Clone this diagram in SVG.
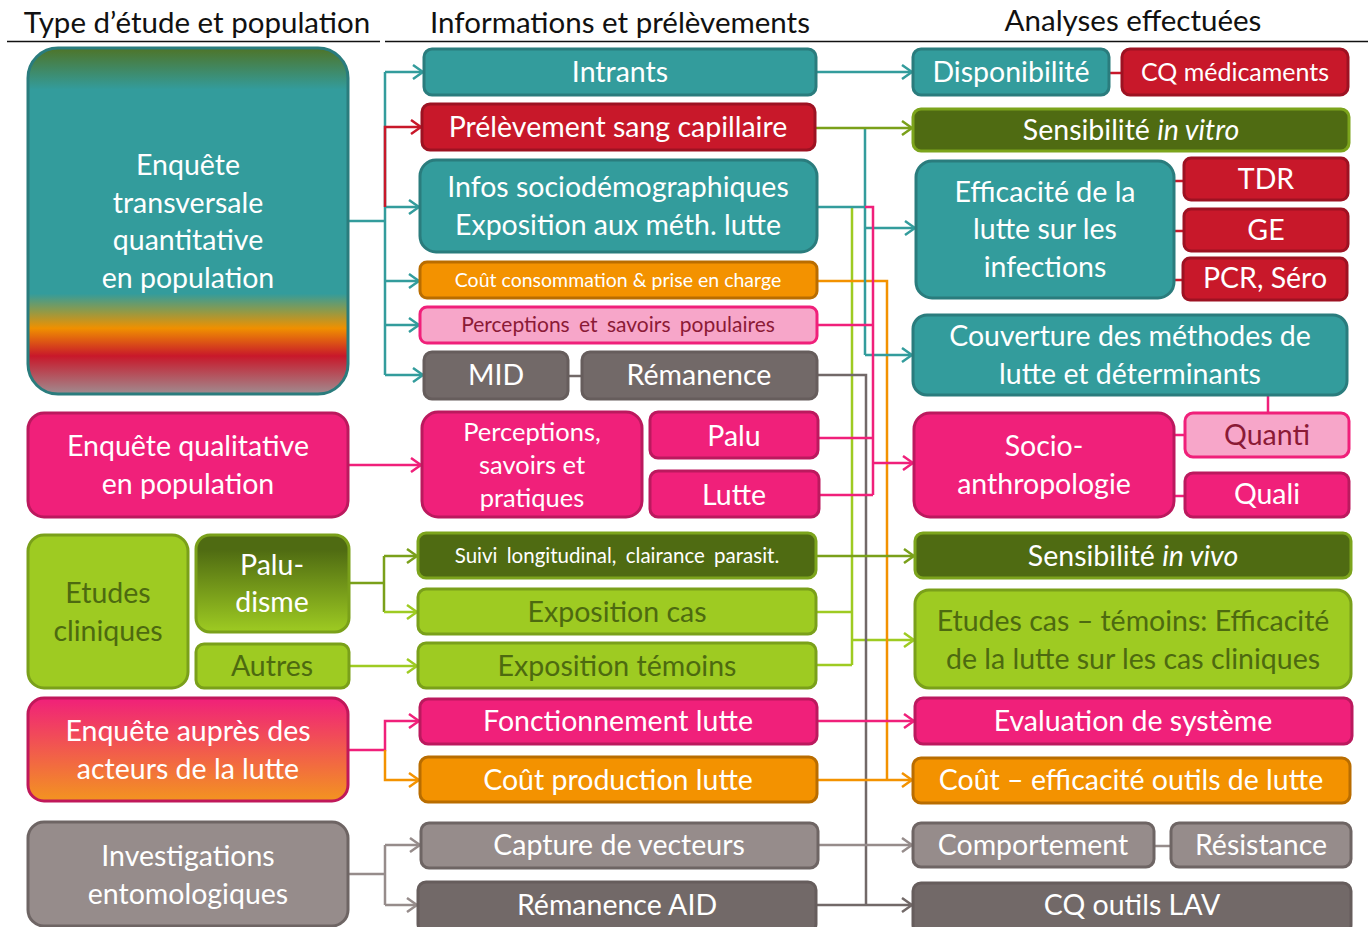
<svg xmlns="http://www.w3.org/2000/svg" width="1372" height="927" viewBox="0 0 1372 927">
<style>
text{font-family:Lato,"Noto Sans","Liberation Sans",sans-serif;font-size:28.5px;text-anchor:middle;fill:#fff}
.hd{fill:#111;font-size:29.5px}
.sc{font-size:19.5px}
.sp{font-size:21px;word-spacing:4px}
.ss{font-size:20.5px;word-spacing:4px}
.s23{font-size:25px}
.s24{font-size:25.5px}
.dg{fill:#4d6a10}
.dr{fill:#8b1a36}
rect{stroke-width:3}
.teal{fill:#339c9c;stroke:#2a7c7d}
.red{fill:#c8182a;stroke:#9d1222}
.pink{fill:#f0207a;stroke:#bb195e}
.lpink{fill:#f7a6c9;stroke:#f0207a}
.orange{fill:#f39200;stroke:#b96d00}
.dgreen{fill:#4f6b12;stroke:#7ca41c}
.lgreen{fill:#9ecb22;stroke:#7aa01a}
.glight{fill:#968c8b;stroke:#6e6564}
.gdark{fill:#726968;stroke:#665d5c}
.c{fill:none;stroke-width:2.5}
.ct{stroke:#339c9c}.cr{stroke:#c8182a}.co{stroke:#7aa01a}.cl{stroke:#9ecb22}.cp{stroke:#f0207a}.cor{stroke:#f39200}.cg{stroke:#968c8b}.cgd{stroke:#726968}
</style>
<defs>
<linearGradient id="gTrans" x1="0" y1="0" x2="0" y2="1">
<stop offset="0" stop-color="#4e7428"/>
<stop offset="0.12" stop-color="#339c9c"/>
<stop offset="0.71" stop-color="#339c9c"/>
<stop offset="0.76" stop-color="#8e9a4a"/>
<stop offset="0.81" stop-color="#f09000"/>
<stop offset="0.89" stop-color="#c8182a"/>
<stop offset="1" stop-color="#a08c90"/>
</linearGradient>
<linearGradient id="gPalu" x1="0" y1="0" x2="0" y2="1">
<stop offset="0.15" stop-color="#4f6b12"/>
<stop offset="1" stop-color="#9ecb22"/>
</linearGradient>
<linearGradient id="gAct" x1="0" y1="0" x2="0" y2="1">
<stop offset="0" stop-color="#f0207a"/>
<stop offset="1" stop-color="#f39420"/>
</linearGradient>
<marker id="aT" viewBox="0 0 12 16" refX="11" refY="8" markerWidth="12" markerHeight="16" markerUnits="userSpaceOnUse" orient="auto"><path d="M1,1 L11,8 L1,15" fill="none" stroke="#339c9c" stroke-width="2.5"/></marker>
<marker id="aR" viewBox="0 0 12 16" refX="11" refY="8" markerWidth="12" markerHeight="16" markerUnits="userSpaceOnUse" orient="auto"><path d="M1,1 L11,8 L1,15" fill="none" stroke="#c8182a" stroke-width="2.5"/></marker>
<marker id="aO" viewBox="0 0 12 16" refX="11" refY="8" markerWidth="12" markerHeight="16" markerUnits="userSpaceOnUse" orient="auto"><path d="M1,1 L11,8 L1,15" fill="none" stroke="#7aa01a" stroke-width="2.5"/></marker>
<marker id="aL" viewBox="0 0 12 16" refX="11" refY="8" markerWidth="12" markerHeight="16" markerUnits="userSpaceOnUse" orient="auto"><path d="M1,1 L11,8 L1,15" fill="none" stroke="#9ecb22" stroke-width="2.5"/></marker>
<marker id="aP" viewBox="0 0 12 16" refX="11" refY="8" markerWidth="12" markerHeight="16" markerUnits="userSpaceOnUse" orient="auto"><path d="M1,1 L11,8 L1,15" fill="none" stroke="#f0207a" stroke-width="2.5"/></marker>
<marker id="aOr" viewBox="0 0 12 16" refX="11" refY="8" markerWidth="12" markerHeight="16" markerUnits="userSpaceOnUse" orient="auto"><path d="M1,1 L11,8 L1,15" fill="none" stroke="#f39200" stroke-width="2.5"/></marker>
<marker id="aG" viewBox="0 0 12 16" refX="11" refY="8" markerWidth="12" markerHeight="16" markerUnits="userSpaceOnUse" orient="auto"><path d="M1,1 L11,8 L1,15" fill="none" stroke="#968c8b" stroke-width="2.5"/></marker>
<marker id="aGd" viewBox="0 0 12 16" refX="11" refY="8" markerWidth="12" markerHeight="16" markerUnits="userSpaceOnUse" orient="auto"><path d="M1,1 L11,8 L1,15" fill="none" stroke="#726968" stroke-width="2.5"/></marker>
</defs>
<rect width="1372" height="927" fill="#fff" stroke="none"/>
<g id="headers">
<text class="hd" x="197" y="33">Type d’étude et population</text>
<text class="hd" x="620" y="33">Informations et prélèvements</text>
<text class="hd" x="1133" y="31">Analyses effectuées</text>
<line x1="7" y1="41.5" x2="380" y2="41.5" stroke="#111" stroke-width="1.5"/>
<line x1="385" y1="41.5" x2="1368" y2="41.5" stroke="#111" stroke-width="1.5"/>
</g>
<g id="connectors">
<path class="c ct" d="M348,221 H385"/>
<path class="c ct" d="M385,72 V375"/>
<path class="c ct" d="M385,72 H423" marker-end="url(#aT)"/>
<path class="c ct" d="M385,207 H419" marker-end="url(#aT)"/>
<path class="c ct" d="M385,281 H419" marker-end="url(#aT)"/>
<path class="c ct" d="M385,325 H419" marker-end="url(#aT)"/>
<path class="c ct" d="M385,375 H423" marker-end="url(#aT)"/>
<path class="c cr" d="M385,207 V127 H421" marker-end="url(#aR)"/>
<path class="c cp" d="M348,465 H421" marker-end="url(#aP)"/>
<path class="c co" d="M349,583 H384 M384,556 V612"/>
<path class="c co" d="M384,556 H417" marker-end="url(#aO)"/>
<path class="c cl" d="M384,612 H417" marker-end="url(#aL)"/>
<path class="c cl" d="M349,666 H417" marker-end="url(#aL)"/>
<path class="c cp" d="M348,750 H385 V721 H419" marker-end="url(#aP)"/>
<path class="c cor" d="M385,750 V780 H419" marker-end="url(#aOr)"/>
<path class="c cg" d="M348,874 H385 M385,845 V905"/>
<path class="c cg" d="M385,845 H420" marker-end="url(#aG)"/>
<path class="c cg" d="M385,905 H417" marker-end="url(#aG)"/>
<path class="c cgd" d="M568,376 H582"/>
<path class="c cr" d="M1109,73 H1122"/>
<path class="c cr" d="M1174,181 H1184 M1174,231 H1184 M1174,280 H1183"/>
<path class="c cp" d="M1268,395 V413 M1174,435 H1185 M1174,496 H1185"/>
<path class="c cg" d="M1154,846 H1171"/>
<path class="c cl" d="M852,207 V665 M816,612 H852 M816,665 H852"/>
<path class="c cl" d="M852,640 H914" marker-end="url(#aL)"/>
<path class="c cgd" d="M817,375 H866 V905 M816,905 H866"/>
<path class="c cgd" d="M866,905 H912" marker-end="url(#aGd)"/>
<path class="c cor" d="M817,281 H887 V780 M817,780 H887"/>
<path class="c cor" d="M887,780 H912" marker-end="url(#aOr)"/>
<path class="c ct" d="M816,72 H912" marker-end="url(#aT)"/>
<path class="c ct" d="M817,207 H865 M865,128 V355"/>
<path class="c ct" d="M865,228 H915" marker-end="url(#aT)"/>
<path class="c ct" d="M865,355 H912" marker-end="url(#aT)"/>
<path class="c co" d="M815,128 H912" marker-end="url(#aO)"/>
<path class="c cp" d="M865,207 H873 V495 M817,325 H873 M818,438 H873 M819,495 H873"/>
<path class="c cp" d="M873,463 H913" marker-end="url(#aP)"/>
<path class="c co" d="M816,556 H914" marker-end="url(#aO)"/>
<path class="c cp" d="M817,721 H914" marker-end="url(#aP)"/>
<path class="c cg" d="M818,845 H912" marker-end="url(#aG)"/>
</g>
<g id="n-transversale"><rect x="28" y="48" width="320" height="346" rx="30" fill="url(#gTrans)" stroke="#2a7c7d"/>
<text x="188" y="175">Enquête</text><text x="188" y="213">transversale</text><text x="188" y="250">quantitative</text><text x="188" y="288">en population</text></g>
<g id="n-qualitative"><rect class="pink" x="28" y="413" width="320" height="104" rx="16"/>
<text x="188" y="456">Enquête qualitative</text><text x="188" y="494">en population</text></g>
<g id="n-cliniques"><rect class="lgreen" x="28" y="535" width="160" height="153" rx="16"/>
<text class="dg" x="108" y="603">Etudes</text><text class="dg" x="108" y="641">cliniques</text></g>
<g id="n-paludisme"><rect x="196" y="535" width="153" height="97" rx="14" fill="url(#gPalu)" stroke="#7aa01a"/>
<text x="272" y="575">Palu-</text><text x="272" y="612">disme</text></g>
<g id="n-autres"><rect class="lgreen" x="196" y="644" width="153" height="44" rx="8"/>
<text class="dg" x="272" y="676">Autres</text></g>
<g id="n-acteurs"><rect x="28" y="698" width="320" height="103" rx="16" fill="url(#gAct)" stroke="#c0185a"/>
<text x="188" y="741">Enquête auprès des</text><text x="188" y="779">acteurs de la lutte</text></g>
<g id="n-entomo"><rect class="glight" x="28" y="822" width="320" height="104" rx="16"/>
<text x="188" y="866">Investigations</text><text x="188" y="904">entomologiques</text></g>

<g id="n-intrants"><rect class="teal" x="424" y="49" width="392" height="46" rx="8"/><text x="620" y="82">Intrants</text></g>
<g id="n-prelevement"><rect class="red" x="422" y="104" width="393" height="46" rx="8"/><text x="618" y="137">Prélèvement sang capillaire</text></g>
<g id="n-infos"><rect class="teal" x="420" y="160" width="397" height="92" rx="16"/><text x="618" y="197">Infos sociodémographiques</text><text x="618" y="235">Exposition aux méth. lutte</text></g>
<g id="n-coutconso"><rect class="orange" x="420" y="262" width="397" height="36" rx="7"/><text class="sc" x="618" y="287">Coût consommation &amp; prise en charge</text></g>
<g id="n-percpop"><rect class="lpink" x="420" y="307" width="397" height="36" rx="7"/><text class="sp dr" x="618" y="332">Perceptions et savoirs populaires</text></g>
<g id="n-mid"><rect class="gdark" x="424" y="352" width="144" height="47" rx="8"/><text x="496" y="385">MID</text></g>
<g id="n-remanence"><rect class="gdark" x="582" y="352" width="235" height="47" rx="8"/><text x="699" y="385">Rémanence</text></g>
<g id="n-percsav"><rect class="pink" x="422" y="412" width="220" height="105" rx="16"/><text class="s24" x="532" y="441">Perceptions,</text><text class="s24" x="532" y="474">savoirs et</text><text class="s24" x="532" y="507">pratiques</text></g>
<g id="n-palu"><rect class="pink" x="650" y="412" width="168" height="46" rx="8"/><text x="734" y="446">Palu</text></g>
<g id="n-lutte"><rect class="pink" x="650" y="471" width="169" height="46" rx="8"/><text x="734" y="505">Lutte</text></g>
<g id="n-suivi"><rect class="dgreen" x="418" y="533" width="398" height="45" rx="8"/><text class="ss" x="617" y="563">Suivi longitudinal, clairance parasit.</text></g>
<g id="n-expcas"><rect class="lgreen" x="418" y="589" width="398" height="45" rx="8"/><text class="dg" x="617" y="622">Exposition cas</text></g>
<g id="n-exptem"><rect class="lgreen" x="418" y="643" width="398" height="45" rx="8"/><text class="dg" x="617" y="676">Exposition témoins</text></g>
<g id="n-fonct"><rect class="pink" x="420" y="699" width="397" height="45" rx="8"/><text x="618" y="731">Fonctionnement lutte</text></g>
<g id="n-coutprod"><rect class="orange" x="420" y="757" width="397" height="45" rx="8"/><text x="618" y="790">Coût production lutte</text></g>
<g id="n-capture"><rect class="glight" x="421" y="823" width="397" height="45" rx="8"/><text x="619" y="855">Capture de vecteurs</text></g>
<g id="n-remaid"><rect class="gdark" x="418" y="882" width="398" height="50" rx="8"/><text x="617" y="915">Rémanence AID</text></g>

<g id="n-dispo"><rect class="teal" x="913" y="49" width="196" height="46" rx="8"/><text x="1011" y="82">Disponibilité</text></g>
<g id="n-cqmed"><rect class="red" x="1122" y="49" width="226" height="46" rx="8"/><text class="s23" x="1235" y="81">CQ médicaments</text></g>
<g id="n-invitro"><rect class="dgreen" x="913" y="109" width="436" height="42" rx="8"/><text x="1131" y="140">Sensibilité <tspan font-style="italic">in vitro</tspan></text></g>
<g id="n-efficacite"><rect class="teal" x="916" y="161" width="258" height="137" rx="16"/><text x="1045" y="202">Efficacité de la</text><text x="1045" y="239">lutte sur les</text><text x="1045" y="277">infections</text></g>
<g id="n-tdr"><rect class="red" x="1184" y="158" width="164" height="42" rx="7"/><text x="1266" y="189">TDR</text></g>
<g id="n-ge"><rect class="red" x="1184" y="209" width="164" height="42" rx="7"/><text x="1266" y="240">GE</text></g>
<g id="n-pcr"><rect class="red" x="1183" y="258" width="164" height="42" rx="7"/><text x="1265" y="288">PCR, Séro</text></g>
<g id="n-couverture"><rect class="teal" x="913" y="315" width="434" height="80" rx="14"/><text x="1130" y="346">Couverture des méthodes de</text><text x="1130" y="384">lutte et déterminants</text></g>
<g id="n-socio"><rect class="pink" x="914" y="413" width="260" height="104" rx="16"/><text x="1044" y="456">Socio-</text><text x="1044" y="494">anthropologie</text></g>
<g id="n-quanti"><rect class="lpink" x="1185" y="413" width="164" height="44" rx="8"/><text class="dr" x="1267" y="445">Quanti</text></g>
<g id="n-quali"><rect class="pink" x="1185" y="473" width="164" height="44" rx="8"/><text x="1267" y="504">Quali</text></g>
<g id="n-invivo"><rect class="dgreen" x="915" y="533" width="436" height="45" rx="8"/><text x="1133" y="566">Sensibilité <tspan font-style="italic">in vivo</tspan></text></g>
<g id="n-castemoins"><rect class="lgreen" x="915" y="590" width="436" height="98" rx="14"/><text class="dg" x="1133" y="631">Etudes cas – témoins: Efficacité</text><text class="dg" x="1133" y="669">de la lutte sur les cas cliniques</text></g>
<g id="n-evaluation"><rect class="pink" x="915" y="698" width="437" height="46" rx="8"/><text x="1133" y="731">Evaluation de système</text></g>
<g id="n-couteff"><rect class="orange" x="913" y="758" width="437" height="45" rx="8"/><text x="1131" y="790">Coût – efficacité outils de lutte</text></g>
<g id="n-comportement"><rect class="glight" x="913" y="823" width="241" height="44" rx="8"/><text x="1033" y="855">Comportement</text></g>
<g id="n-resistance"><rect class="glight" x="1171" y="823" width="180" height="44" rx="8"/><text x="1261" y="855">Résistance</text></g>
<g id="n-cqlav"><rect class="gdark" x="913" y="883" width="438" height="50" rx="8"/><text x="1132" y="915">CQ outils LAV</text></g>
</svg>
